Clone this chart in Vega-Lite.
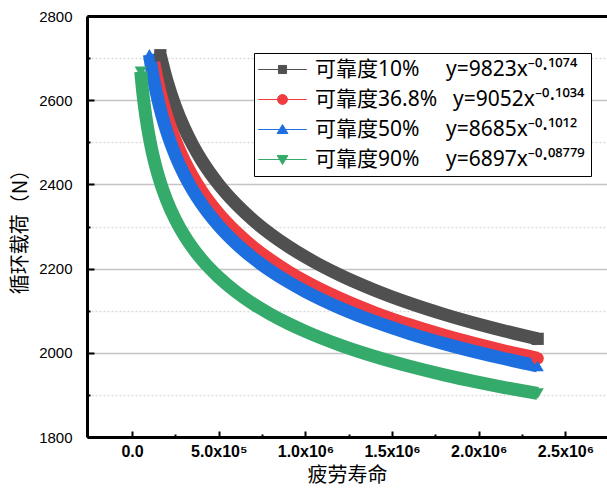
{
  "$schema": "https://vega.github.io/schema/vega-lite/v6.json",
  "width": 520,
  "height": 421,
  "autosize": "none",
  "padding": {"left": 87, "top": 16, "right": 0, "bottom": 64},
  "background": "white",
  "config": {"view": {"stroke": null}},
  "datasets": {
    "curves": [
      {"s": "10%", "x": 163000, "y": 2706.8},
      {"s": "10%", "x": 200000, "y": 2647.9},
      {"s": "10%", "x": 250000, "y": 2585.3},
      {"s": "10%", "x": 300000, "y": 2535.1},
      {"s": "10%", "x": 350000, "y": 2493.5},
      {"s": "10%", "x": 400000, "y": 2458.0},
      {"s": "10%", "x": 500000, "y": 2399.8},
      {"s": "10%", "x": 600000, "y": 2353.3},
      {"s": "10%", "x": 700000, "y": 2314.6},
      {"s": "10%", "x": 800000, "y": 2281.6},
      {"s": "10%", "x": 900000, "y": 2253.0},
      {"s": "10%", "x": 1000000, "y": 2227.6},
      {"s": "10%", "x": 1200000, "y": 2184.4},
      {"s": "10%", "x": 1400000, "y": 2148.6},
      {"s": "10%", "x": 1600000, "y": 2117.9},
      {"s": "10%", "x": 1800000, "y": 2091.3},
      {"s": "10%", "x": 2000000, "y": 2067.8},
      {"s": "10%", "x": 2150000, "y": 2051.8},
      {"s": "10%", "x": 2340000, "y": 2033.2},
      {"s": "36.8%", "x": 120000, "y": 2701.2},
      {"s": "36.8%", "x": 150000, "y": 2639.6},
      {"s": "36.8%", "x": 200000, "y": 2562.2},
      {"s": "36.8%", "x": 250000, "y": 2503.8},
      {"s": "36.8%", "x": 300000, "y": 2457.0},
      {"s": "36.8%", "x": 350000, "y": 2418.2},
      {"s": "36.8%", "x": 400000, "y": 2385.0},
      {"s": "36.8%", "x": 500000, "y": 2330.6},
      {"s": "36.8%", "x": 600000, "y": 2287.1},
      {"s": "36.8%", "x": 700000, "y": 2250.9},
      {"s": "36.8%", "x": 800000, "y": 2220.1},
      {"s": "36.8%", "x": 900000, "y": 2193.2},
      {"s": "36.8%", "x": 1000000, "y": 2169.4},
      {"s": "36.8%", "x": 1200000, "y": 2128.9},
      {"s": "36.8%", "x": 1400000, "y": 2095.2},
      {"s": "36.8%", "x": 1600000, "y": 2066.5},
      {"s": "36.8%", "x": 1800000, "y": 2041.5},
      {"s": "36.8%", "x": 2000000, "y": 2019.4},
      {"s": "36.8%", "x": 2150000, "y": 2004.3},
      {"s": "36.8%", "x": 2340000, "y": 1986.9},
      {"s": "50%", "x": 100000, "y": 2708.8},
      {"s": "50%", "x": 120000, "y": 2659.2},
      {"s": "50%", "x": 150000, "y": 2599.9},
      {"s": "50%", "x": 200000, "y": 2525.3},
      {"s": "50%", "x": 250000, "y": 2468.9},
      {"s": "50%", "x": 300000, "y": 2423.7},
      {"s": "50%", "x": 350000, "y": 2386.2},
      {"s": "50%", "x": 400000, "y": 2354.2},
      {"s": "50%", "x": 500000, "y": 2301.6},
      {"s": "50%", "x": 600000, "y": 2259.5},
      {"s": "50%", "x": 700000, "y": 2224.6},
      {"s": "50%", "x": 800000, "y": 2194.7},
      {"s": "50%", "x": 900000, "y": 2168.7},
      {"s": "50%", "x": 1000000, "y": 2145.7},
      {"s": "50%", "x": 1200000, "y": 2106.5},
      {"s": "50%", "x": 1400000, "y": 2073.9},
      {"s": "50%", "x": 1600000, "y": 2046.0},
      {"s": "50%", "x": 1800000, "y": 2021.8},
      {"s": "50%", "x": 2000000, "y": 2000.4},
      {"s": "50%", "x": 2150000, "y": 1985.8},
      {"s": "50%", "x": 2340000, "y": 1968.8},
      {"s": "90%", "x": 50000, "y": 2667.7},
      {"s": "90%", "x": 60000, "y": 2625.3},
      {"s": "90%", "x": 70000, "y": 2590.0},
      {"s": "90%", "x": 80000, "y": 2559.8},
      {"s": "90%", "x": 100000, "y": 2510.2},
      {"s": "90%", "x": 120000, "y": 2470.4},
      {"s": "90%", "x": 150000, "y": 2422.4},
      {"s": "90%", "x": 200000, "y": 2362.0},
      {"s": "90%", "x": 250000, "y": 2316.2},
      {"s": "90%", "x": 300000, "y": 2279.4},
      {"s": "90%", "x": 350000, "y": 2248.8},
      {"s": "90%", "x": 400000, "y": 2222.6},
      {"s": "90%", "x": 500000, "y": 2179.5},
      {"s": "90%", "x": 600000, "y": 2144.8},
      {"s": "90%", "x": 700000, "y": 2116.0},
      {"s": "90%", "x": 800000, "y": 2091.3},
      {"s": "90%", "x": 900000, "y": 2069.8},
      {"s": "90%", "x": 1000000, "y": 2050.8},
      {"s": "90%", "x": 1200000, "y": 2018.2},
      {"s": "90%", "x": 1400000, "y": 1991.1},
      {"s": "90%", "x": 1600000, "y": 1967.9},
      {"s": "90%", "x": 1800000, "y": 1947.6},
      {"s": "90%", "x": 2000000, "y": 1929.7},
      {"s": "90%", "x": 2150000, "y": 1917.5},
      {"s": "90%", "x": 2340000, "y": 1903.3}
    ],
    "ends": [
      {"s": "10%", "x": 163000, "y": 2706.8},
      {"s": "10%", "x": 2340000, "y": 2033.2},
      {"s": "36.8%", "x": 2340000, "y": 1986.9},
      {"s": "50%", "x": 100000, "y": 2708.8},
      {"s": "50%", "x": 2340000, "y": 1968.8},
      {"s": "90%", "x": 50000, "y": 2667.7},
      {"s": "90%", "x": 2340000, "y": 1903.3}
    ]
  },
  "layer": [
    {
      "data": {"name": "curves"},
      "mark": {"type": "line", "strokeWidth": 13, "interpolate": "monotone", "strokeCap": "butt", "strokeJoin": "round"},
      "encoding": {
        "x": {
          "field": "x", "type": "quantitative",
          "scale": {"domain": [-260000, 2740000], "nice": false, "zero": false},
          "axis": {
            "values": [0, 250000, 500000, 750000, 1000000, 1250000, 1500000, 1750000, 2000000, 2250000, 2500000],
            "labelExpr": "datum.value == 0 ? '0.0' : datum.value == 500000 ? '5.0x10⁵' : datum.value == 1000000 ? '1.0x10⁶' : datum.value == 1500000 ? '1.5x10⁶' : datum.value == 2000000 ? '2.0x10⁶' : datum.value == 2500000 ? '2.5x10⁶' : ''",
            "labelOverlap": false,
            "labelFont": "Liberation Sans",
            "labelFontSize": 16,
            "labelFontWeight": "bold",
            "labelColor": "black",
            "labelPadding": 12,
            "tickSize": {"condition": {"test": "datum.value % 500000 == 0", "value": -6}, "value": -3},
            "tickColor": "black",
            "tickWidth": 2,
            "domainColor": "black",
            "domainWidth": 3,
            "grid": false,
            "title": "疲劳寿命",
            "titleFont": "Noto Sans CJK SC",
            "titleFontSize": 20,
            "titleFontWeight": "normal",
            "titleColor": "black",
            "titlePadding": 3
          }
        },
        "y": {
          "field": "y", "type": "quantitative",
          "scale": {"domain": [1800, 2800], "nice": false, "zero": false},
          "axis": {
            "values": [1800, 1900, 2000, 2100, 2200, 2300, 2400, 2500, 2600, 2700, 2800],
            "format": "d",
            "labelExpr": "datum.value % 200 == 0 ? datum.label : ''",
            "labelOverlap": false,
            "labelFont": "Liberation Sans",
            "labelFontSize": 15,
            "labelColor": "black",
            "labelPadding": 22,
            "tickSize": {"condition": {"test": "datum.value % 200 == 0", "value": -7}, "value": -3},
            "tickColor": "black",
            "tickWidth": 2,
            "domainColor": "black",
            "domainWidth": 3,
            "grid": true,
            "gridColor": {"condition": {"test": "datum.value % 200 == 0", "value": "#c4c4c4"}, "value": "#dcdcdc"},
            "gridDash": {"condition": {"test": "datum.value % 200 == 0", "value": []}, "value": [2, 2]},
            "gridWidth": 1.3,
            "title": "循环载荷（N）",
            "titleFont": "Noto Sans CJK SC",
            "titleFontSize": 20,
            "titleFontWeight": "normal",
            "titleColor": "black",
            "titlePadding": 8
          }
        },
        "color": {
          "field": "s", "type": "nominal",
          "scale": {"domain": ["10%", "36.8%", "50%", "90%"], "range": ["#505050", "#f03c40", "#1d6fe0", "#35ab6b"]},
          "legend": {
            "orient": "none",
            "legendX": 167,
            "legendY": 37,
            "title": null,
            "labelExpr": "datum.value == '10%' ? '可靠度10%\u2002\u2002\u00a0y=9823x⁻⁰·¹⁰⁷⁴' : datum.value == '36.8%' ? '可靠度36.8%\u2002\u00a0y=9052x⁻⁰·¹⁰³⁴' : datum.value == '50%' ? '可靠度50%\u2002\u2002\u00a0y=8685x⁻⁰·¹⁰¹²' : '可靠度90%\u2002\u2002\u00a0y=6897x⁻⁰·⁰⁸⁷⁷⁹'",
            "labelFont": "Noto Sans, Noto Sans CJK SC",
            "labelFontSize": 21,
            "labelColor": "black",
            "labelLimit": 0,
            "strokeColor": "black",
            "fillColor": "white",
            "padding": 6,
            "rowPadding": 8,
            "symbolSize": 81,
            "symbolOffset": 12,
            "labelOffset": 22,
            "encode": {
              "symbols": {
                "update": {
                  "shape": {"signal": "datum.value == '10%' ? 'M-5.4,0H5.4M-0.9,-0.9H0.9V0.9H-0.9Z' : datum.value == '36.8%' ? 'M-5.4,0H5.4M-1.1,0A1.1,1.1,0,1,1,1.1,0A1.1,1.1,0,1,1,-1.1,0Z' : datum.value == '50%' ? 'M-5.4,0H5.4M0,-1.1L1.2,0.9H-1.2Z' : 'M-5.4,0H5.4M0,1.1L1.2,-0.9H-1.2Z'"},
                  "fill": {"scale": "color", "field": "value"},
                  "stroke": {"scale": "color", "field": "value"},
                  "strokeWidth": {"value": 1},
                  "opacity": {"value": 1},
                  "size": {"value": 81}
                }
              }
            }
          }
        }
      }
    },
    {
      "data": {"name": "ends"},
      "mark": {"type": "point", "filled": true, "opacity": 1, "size": 150},
      "encoding": {
        "x": {
          "field": "x", "type": "quantitative",
          "scale": {"domain": [-260000, 2740000], "nice": false, "zero": false},
          "axis": {"orient": "top", "labels": false, "ticks": false, "grid": false, "domain": true, "domainColor": "black", "domainWidth": 3, "title": null}
        },
        "y": {
          "field": "y", "type": "quantitative",
          "scale": {"domain": [1800, 2800], "nice": false, "zero": false}
        },
        "color": {"field": "s", "type": "nominal", "legend": null},
        "shape": {
          "condition": [
            {"test": "datum.s == '10%'", "value": "square"},
            {"test": "datum.s == '36.8%'", "value": "circle"},
            {"test": "datum.s == '50%'", "value": "triangle-up"}
          ],
          "value": "triangle-down"
        }
      }
    }
  ],
  "resolve": {"axis": {"x": "independent"}}
}
